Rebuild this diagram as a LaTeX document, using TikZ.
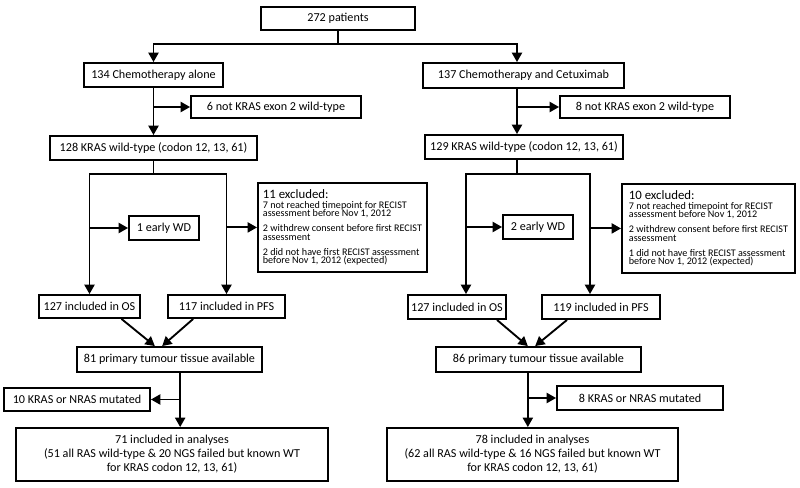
\documentclass[tikz,border=0pt]{standalone}
\usepackage{fontspec}
\setmainfont{Carlito}
\usetikzlibrary{arrows.meta}

\newcommand{\tightlines}{\lineskiplimit=-20pt\relax}
\newcommand{\exclhead}[1]{{\fontsize{9.6}{9}\selectfont #1}\\[1.2pt]}

\tikzset{
  box/.style={draw, line width=1.4pt, inner sep=0pt, align=center,
    font=\fontsize{9.1}{10.5}\selectfont},
  exclbox/.style={draw, line width=1.4pt, inner xsep=3.5pt, inner ysep=4.5pt, align=left,
    anchor=north west, font=\fontsize{7.6}{6.3}\selectfont\tightlines},
  arr/.style={line width=1.4pt, -{Triangle[length=7pt,width=7.5pt]}},
  ln/.style={line width=1.4pt}
}

\begin{document}
\begin{tikzpicture}[x=0.75pt, y=-0.75pt]
	\useasboundingbox (0,0) rectangle (800,488);

	% top
	\node[box, minimum width=115.5pt, minimum height=17.25pt] (pat) at (338,18.5) {272 patients};

	% arms
	\node[box, minimum width=104.25pt, minimum height=18pt] (chemo) at (153.5,75) {134 Chemotherapy alone};
	\node[box, minimum width=150.75pt, minimum height=18.75pt] (cetux) at (523.5,75.5) {137 Chemotherapy and Cetuximab};
	\node[box, minimum width=127.5pt, minimum height=16.5pt] (notkrasL) at (276,107) {6 not KRAS exon 2 wild-type};
	\node[box, minimum width=127.5pt, minimum height=16.5pt] (notkrasR) at (645,107) {8 not KRAS exon 2 wild-type};
	\node[box, minimum width=155.25pt, minimum height=18pt] (wtL) at (153.5,148) {128 KRAS wild-type (codon 12, 13, 61)};
	\node[box, minimum width=148.5pt, minimum height=18pt] (wtR) at (524,147) {129 KRAS wild-type (codon 12, 13, 61)};

	% exclusions
	\node[box, minimum width=52.5pt, minimum height=18pt] (wdL) at (164,228) {1 early WD};
	\node[box, minimum width=52.5pt, minimum height=18pt] (wdR) at (538,227) {2 early WD};
	\node[exclbox, minimum width=126.75pt, minimum height=66.75pt] (exclL) at (257,182) {%
		\exclhead{11 excluded:}
		7 not reached timepoint for RECIST\\ assessment before Nov 1, 2012\\[5pt]
		2 withdrew consent before first RECIST\\ assessment\\[5pt]
		2 did not have first RECIST assessment\\ before Nov 1, 2012 (expected)};
	\node[exclbox, minimum width=129.75pt, minimum height=66.75pt] (exclR) at (621,183) {%
		\exclhead{10 excluded:}
		7 not reached timepoint for RECIST\\ assessment before Nov 1, 2012\\[5pt]
		2 withdrew consent before first RECIST\\ assessment\\[5pt]
		1 did not have first RECIST assessment\\ before Nov 1, 2012 (expected)};

	% populations
	\node[box, minimum width=75.75pt, minimum height=17.25pt] (osL) at (89.5,306.5) {127 included in OS};
	\node[box, minimum width=87.75pt, minimum height=17.25pt] (pfsL) at (226.5,306.5) {117 included in PFS};
	\node[box, minimum width=73.5pt, minimum height=18pt] (osR) at (457,307) {127 included in OS};
	\node[box, minimum width=88.5pt, minimum height=18pt] (pfsR) at (601,307) {119 included in PFS};

	% tissue
	\node[box, minimum width=138.75pt, minimum height=18.75pt] (primL) at (169.5,359.5) {81 primary tumour tissue available};
	\node[box, minimum width=153.75pt, minimum height=18.75pt] (primR) at (538.5,359.5) {86 primary tumour tissue available};
	\node[box, minimum width=109.5pt, minimum height=17.25pt] (mutL) at (77,399.5) {10 KRAS or NRAS mutated};
	\node[box, minimum width=124.5pt, minimum height=18pt] (mutR) at (640,398) {8 KRAS or NRAS mutated};
	\node[box, minimum width=234pt, minimum height=39.75pt] (analL) at (172,454.5)
		{71 included in analyses\\(51 all RAS wild-type \& 20 NGS failed but known WT\\for KRAS codon 12, 13, 61)};
	\node[box, minimum width=218.25pt, minimum height=39.75pt] (analR) at (532.5,454.5)
		{78 included in analyses\\(62 all RAS wild-type \& 16 NGS failed but known WT\\for KRAS codon 12, 13, 61)};

	% helper points
	\coordinate (trunkR) at (517,0);
	\coordinate (osRtop) at ([xshift=6.75pt]osR.north);
	\coordinate (pfsRtop) at ([xshift=-8.25pt]pfsR.north);
	\coordinate (tissueL) at ([xshift=8pt]primL.south);
	\coordinate (tissueR) at ([xshift=-8pt]primR.south);

	% randomisation
	\draw[ln] (pat.south) -- ++(0,13) coordinate (split);
	\draw[arr] (split) -| (chemo.north);
	\draw[arr] (split) -| (cetux.north -| trunkR);

	% left arm
	\draw[arr] (chemo.south) -- (wtL.north);
	\draw[arr] (chemo.south |- notkrasL.west) -- (notkrasL.west);
	\draw[ln] (wtL.south) -- ++(0,13) coordinate (forkL);
	\draw[arr] (forkL) -| (osL.north);
	\draw[arr] (forkL) -| (pfsL.north);
	\draw[arr] (osL.north |- wdL.west) -- (wdL.west);
	\draw[arr] (pfsL.north |- exclL.west) -- (exclL.west);

	% right arm
	\draw[arr] (cetux.south -| trunkR) -- (wtR.north -| trunkR);
	\draw[arr] (notkrasR.west -| trunkR) -- (notkrasR.west);
	\draw[ln] (wtR.south -| trunkR) -- ++(0,14) coordinate (forkR);
	\draw[arr] (forkR) -| (osRtop);
	\draw[arr] (forkR) -| (pfsRtop);
	\draw[arr] (osRtop |- wdR.west) -- (wdR.west);
	\draw[arr] (pfsRtop |- exclR.west) -- (exclR.west);

	% merge to tissue
	\draw[arr] ([xshift=24pt]osL.south) -- ([xshift=-11pt]primL.north);
	\draw[arr] ([xshift=-25pt]pfsL.south) -- ([xshift=-5.5pt]primL.north);
	\draw[arr] ([xshift=30pt]osR.south) -- ([xshift=-8pt]primR.north);
	\draw[arr] ([xshift=-25.5pt]pfsR.south) -- ([xshift=-2.5pt]primR.north);

	% analyses
	\draw[arr] (tissueL) -- (tissueL |- analL.north);
	\draw[arr] (tissueL |- mutL.east) -- (mutL.east);
	\draw[arr] (tissueR) -- (tissueR |- analR.north);
	\draw[arr] (tissueR |- mutR.west) -- (mutR.west);
\end{tikzpicture}
\end{document}
